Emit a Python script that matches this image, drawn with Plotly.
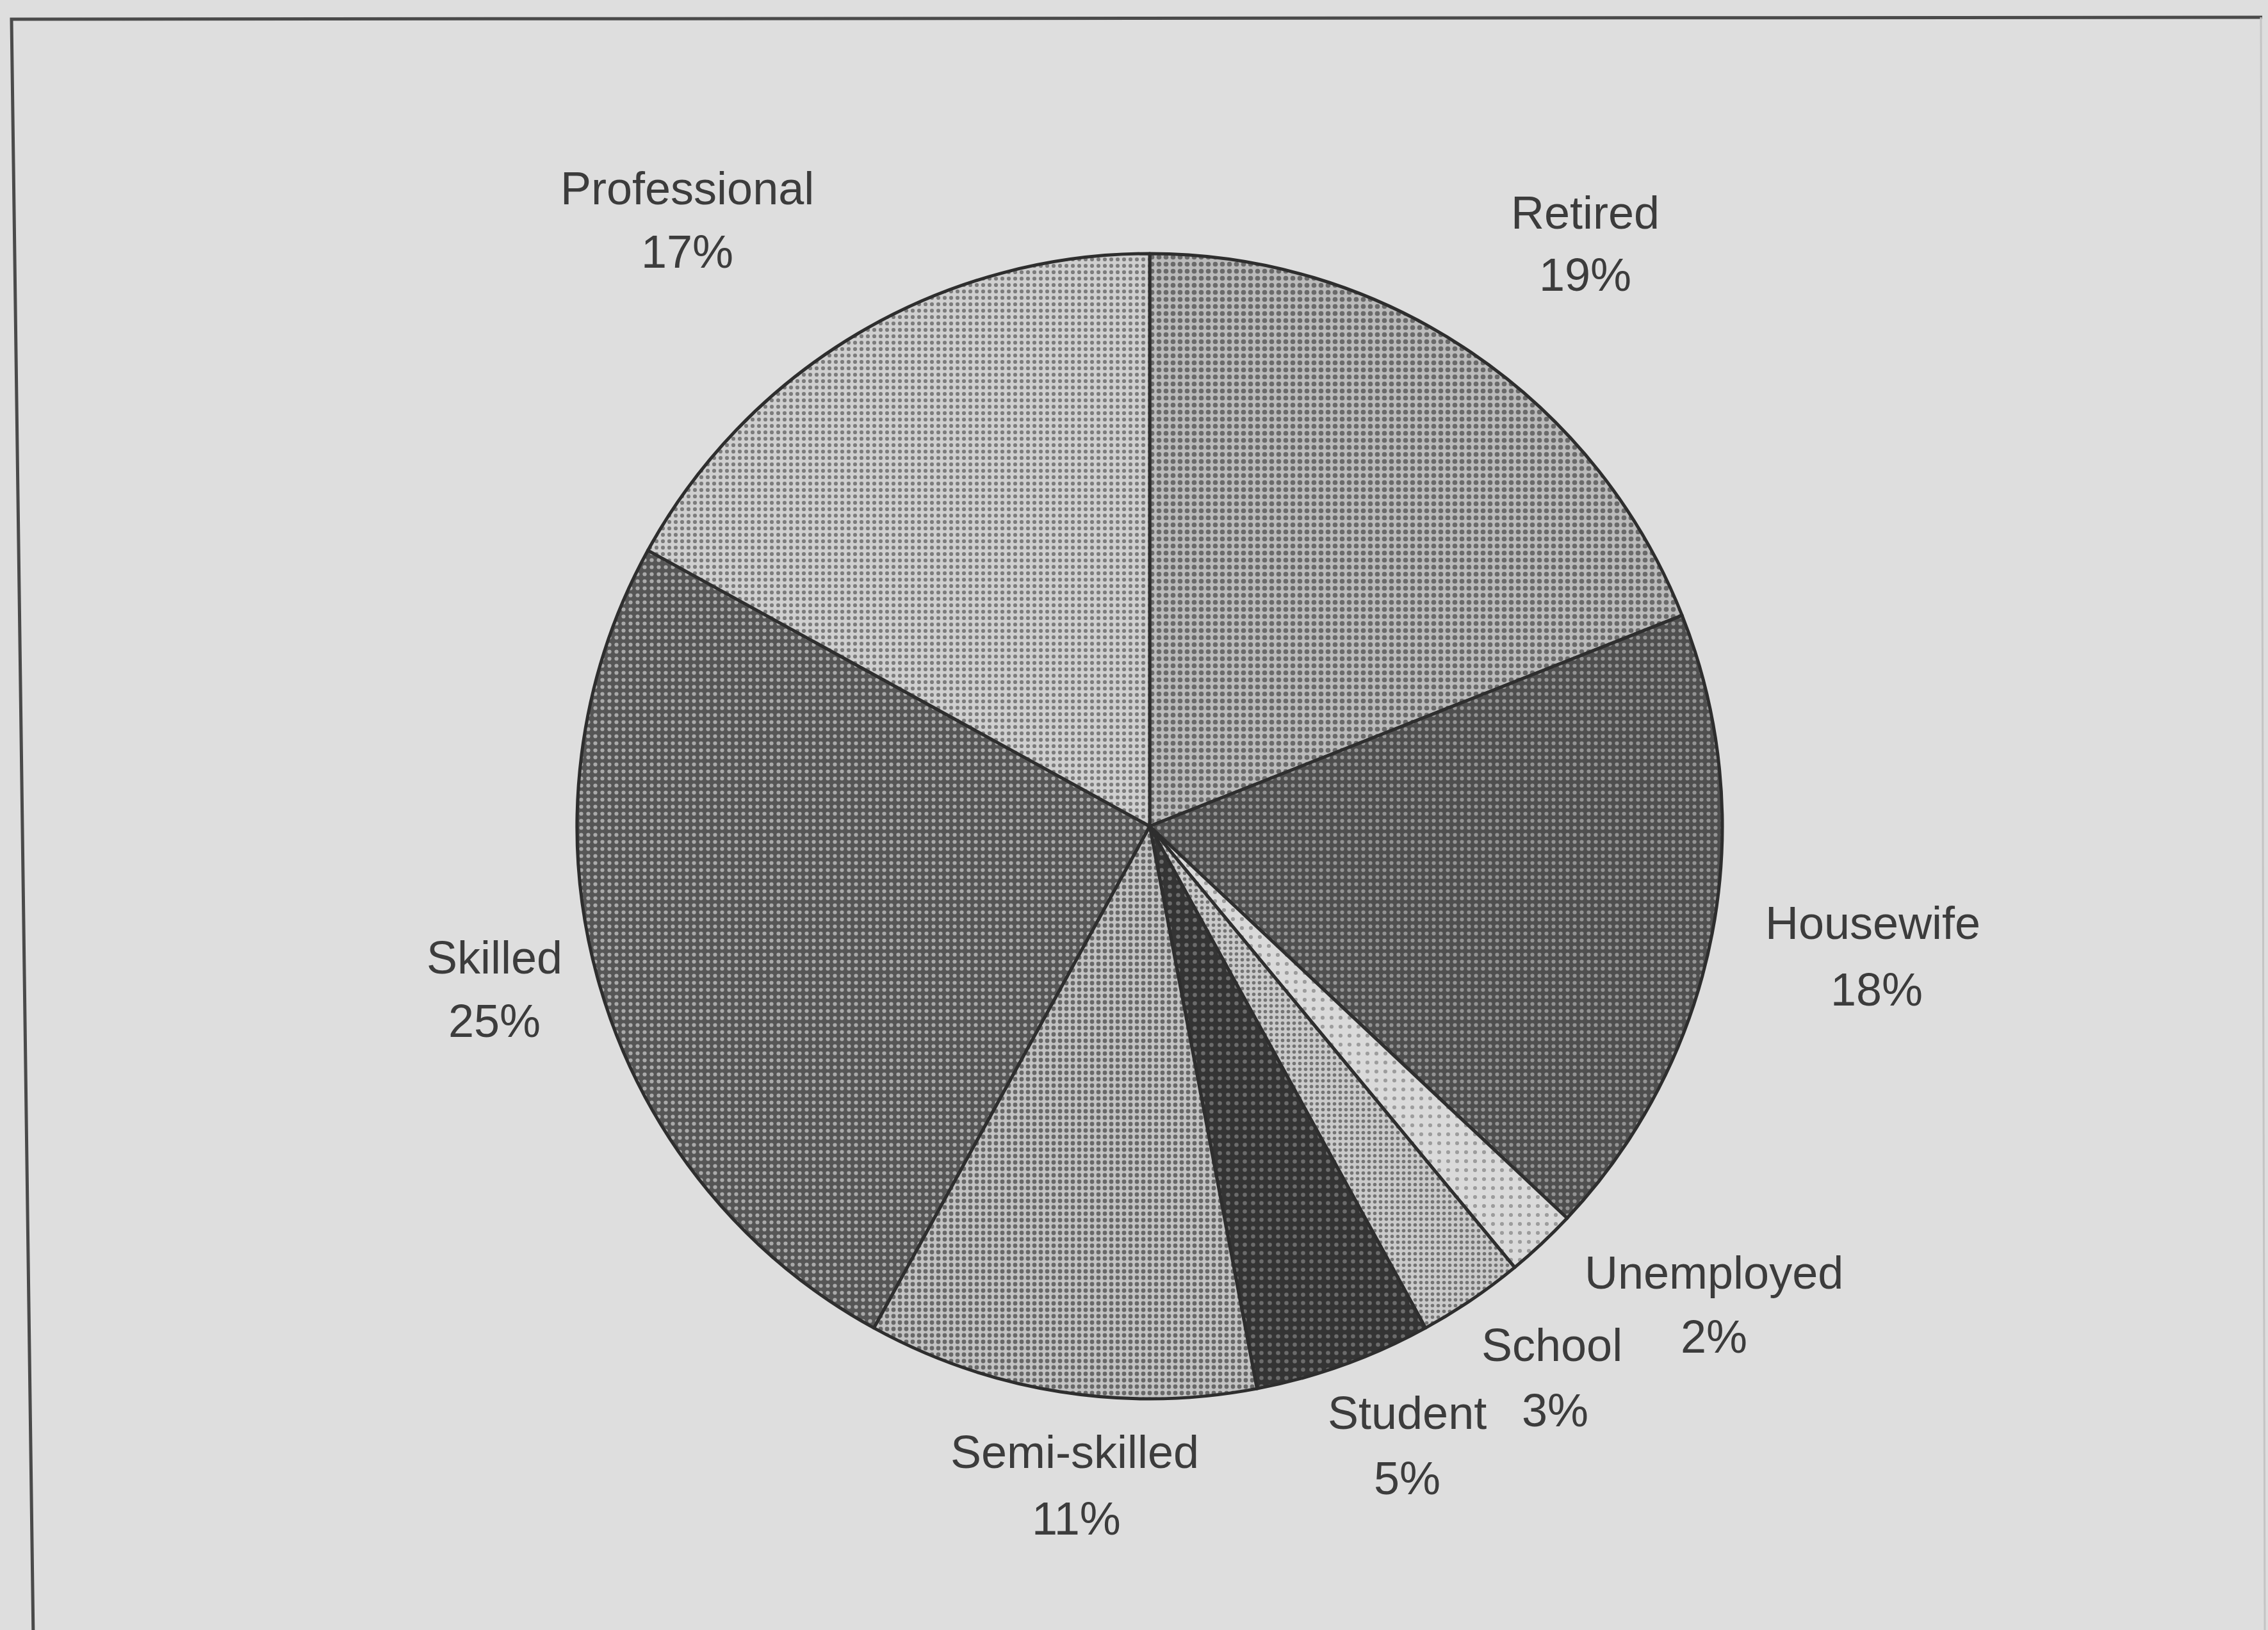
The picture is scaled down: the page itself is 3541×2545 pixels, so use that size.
import plotly.graph_objects as go

# Occupation breakdown (percent of respondents), clockwise from 12 o'clock
categories = ["Retired", "Housewife", "Unemployed", "School", "Student",
              "Semi-skilled", "Skilled", "Professional"]
percentages = [19, 18, 2, 3, 5, 11, 25, 17]

# Dot-screen fills per slice: background tone, dot tone, tile size, dot coverage
bg_colors = ["#bababa", "#4f4f4f", "#dadada", "#cacaca", "#343434",
             "#c2c2c2", "#565656", "#cfcfcf"]
fg_colors = ["#6a6a6a", "#949494", "#9c9c9c", "#747474", "#6c6c6c",
             "#686868", "#aaaaaa", "#7c7c7c"]
dot_sizes = [11, 11, 14, 9, 13, 10, 11, 10]
dot_solidity = [0.38, 0.25, 0.15, 0.30, 0.20, 0.36, 0.25, 0.30]

W, H = 3541, 2545
BG = "#dedede"
TEXT = "#3c3c3c"

# Pie placement in pixels (centre and radius)
cx, cy, r = 1795, 1290, 894

fig = go.Figure()
fig.add_trace(go.Pie(
    labels=categories,
    values=percentages,
    sort=False,
    direction="clockwise",
    rotation=0,
    textinfo="none",
    hoverinfo="label+percent",
    showlegend=False,
    marker=dict(
        colors=bg_colors,
        line=dict(color="#2e2e2e", width=5),
        pattern=dict(
            shape=["."] * len(categories),
            fillmode="replace",
            bgcolor=bg_colors,
            fgcolor=fg_colors,
            size=dot_sizes,
            solidity=dot_solidity,
        ),
    ),
    domain=dict(x=[(cx - r) / W, (cx + r) / W],
                y=[(H - cy - r) / H, (H - cy + r) / H]),
))

# Label anchor points (pixel centres) for the name line and the percent line
name_pos = {
    "Retired": (2475, 332),
    "Housewife": (2924, 1441),
    "Unemployed": (2676, 1987),
    "School": (2423, 2100),
    "Student": (2197, 2206),
    "Semi-skilled": (1678, 2267),
    "Skilled": (772, 1495),
    "Professional": (1073, 294),
}
pct_pos = {
    "Retired": (2475, 429),
    "Housewife": (2930, 1545),
    "Unemployed": (2676, 2087),
    "School": (2428, 2202),
    "Student": (2197, 2308),
    "Semi-skilled": (1680, 2371),
    "Skilled": (772, 1594),
    "Professional": (1073, 393),
}

font = dict(family="Liberation Sans, Arial, sans-serif", size=72, color=TEXT)
for cat, pct in zip(categories, percentages):
    for (px, py), txt in ((name_pos[cat], cat), (pct_pos[cat], f"{pct}%")):
        fig.add_annotation(
            x=px / W, y=1 - py / H, xref="paper", yref="paper",
            text=txt, showarrow=False, font=font,
            xanchor="center", yanchor="middle",
        )

# Frame around the chart area (slightly skewed, as on the printed page)
def pt(x, y):
    return f"{x / W:.5f},{1 - y / H:.5f}"

fig.add_shape(type="path", xref="paper", yref="paper",
              path=f"M {pt(52, 2560)} L {pt(18, 30)} L {pt(3532, 27)}",
              line=dict(color="#4a4a4a", width=5))
fig.add_shape(type="line", xref="paper", yref="paper",
              x0=3530 / W, y0=1 - 27 / H, x1=3536 / W, y1=0,
              line=dict(color="#c4c4c4", width=3))

fig.update_layout(
    width=W, height=H,
    margin=dict(l=0, r=0, t=0, b=0),
    paper_bgcolor=BG,
    plot_bgcolor=BG,
)

fig.write_html("out.html")
